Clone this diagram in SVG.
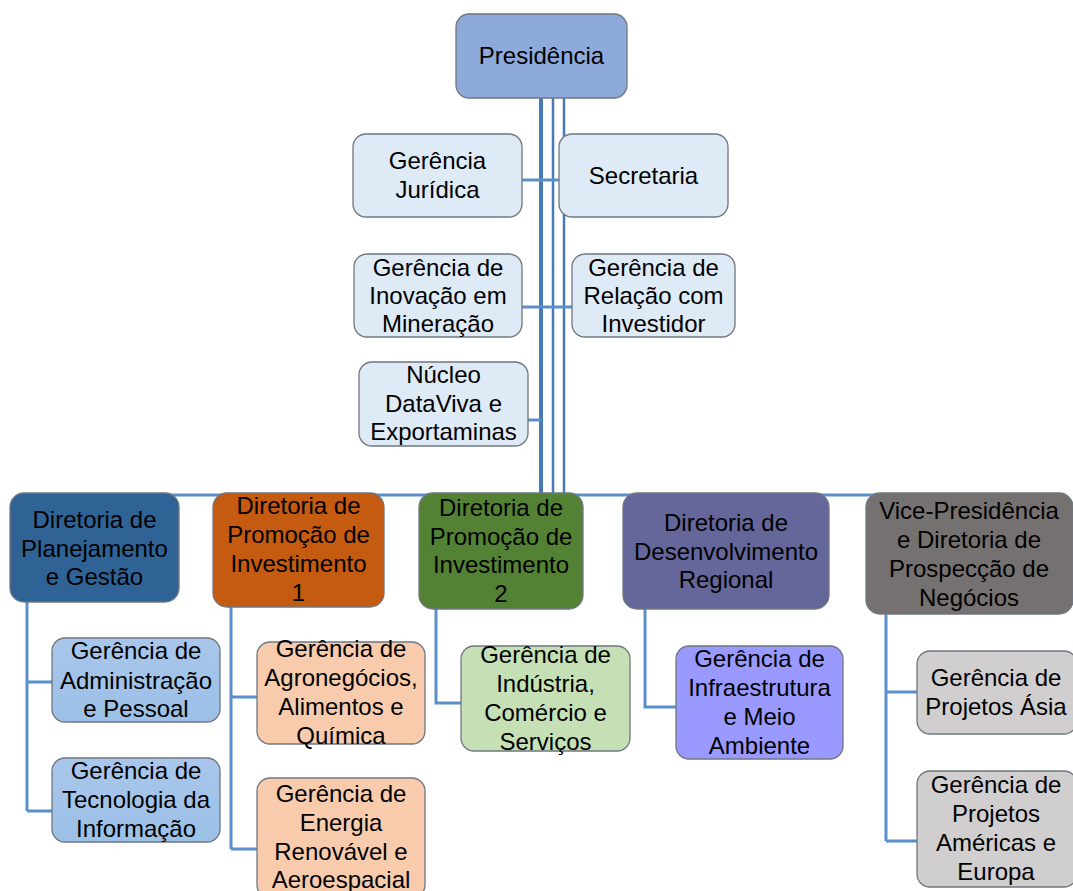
<svg xmlns="http://www.w3.org/2000/svg" width="1073" height="891" viewBox="0 0 1073 891">
<style>
.n{stroke:#6f7780;stroke-width:1.3}
.t{font-family:"Liberation Sans",Arial,sans-serif;font-size:24px;fill:#000;text-anchor:middle}
.c{fill:none;stroke:#5b8fc9;stroke-width:3}
.tr{fill:none;stroke:#4a7ab5}
</style>
<defs>
<linearGradient id="gb" x1="0" y1="0" x2="0" y2="1"><stop offset="0" stop-color="#a9c6ec"/><stop offset="1" stop-color="#9cc0e6"/></linearGradient>
</defs>
<rect width="1073" height="891" fill="#fff"/>
<g id="connectors">
<path class="c" d="M95 495H968"/>
<path class="tr" stroke-width="4" d="M541 98V495"/>
<path class="tr" stroke-width="2.5" d="M553 98V495"/>
<path class="tr" stroke-width="2.5" d="M564 98V495"/>
<path class="c" d="M522 180H559M522 307H572M528 420H541"/>
<path class="c" d="M27 602V811M27 682H52M27 811H52"/>
<path class="c" d="M231 607V849M231 697H257M231 849H257"/>
<path class="c" d="M436 609V703H461"/>
<path class="c" d="M645 609V707H676"/>
<path class="c" d="M886 614V841M886 692H917M886 841H917"/>
</g>
<g id="presidencia"><rect class="n" x="456" y="14" width="171" height="84" rx="13" fill="#8eaadb"/><text class="t" x="541.5" y="64">Presidência</text></g>
<g id="juridica"><rect class="n" x="353" y="134" width="169" height="83" rx="13" fill="#deeaf6"/><text class="t" x="437.5" y="169">Gerência</text><text class="t" x="437.5" y="198">Jurídica</text></g>
<g id="secretaria"><rect class="n" x="559" y="134" width="169" height="83" rx="13" fill="#deeaf6"/><text class="t" x="643.5" y="184">Secretaria</text></g>
<g id="inovacao"><rect class="n" x="354" y="254" width="168" height="83" rx="13" fill="#deeaf6"/><text class="t" x="438" y="276">Gerência de</text><text class="t" x="438" y="304">Inovação em</text><text class="t" x="438" y="332">Mineração</text></g>
<g id="relacao"><rect class="n" x="572" y="254" width="163" height="83" rx="13" fill="#deeaf6"/><text class="t" x="653.5" y="276">Gerência de</text><text class="t" x="653.5" y="304">Relação com</text><text class="t" x="653.5" y="332">Investidor</text></g>
<g id="nucleo"><rect class="n" x="359" y="362" width="169" height="84" rx="13" fill="#deeaf6"/><text class="t" x="443.5" y="383">Núcleo</text><text class="t" x="443.5" y="412">DataViva e</text><text class="t" x="443.5" y="440">Exportaminas</text></g>
<g id="planejamento"><rect class="n" x="10" y="493" width="169" height="109" rx="14" fill="#2f6396"/><text class="t" x="94.5" y="528">Diretoria de</text><text class="t" x="94.5" y="557">Planejamento</text><text class="t" x="94.5" y="585">e Gestão</text></g>
<g id="promocao1"><rect class="n" x="213" y="493" width="171" height="114" rx="14" fill="#c55a11"/><text class="t" x="298.5" y="514">Diretoria de</text><text class="t" x="298.5" y="543">Promoção de</text><text class="t" x="298.5" y="572">Investimento</text><text class="t" x="298.5" y="601">1</text></g>
<g id="promocao2"><rect class="n" x="419" y="493" width="164" height="116" rx="14" fill="#548235"/><text class="t" x="501" y="516">Diretoria de</text><text class="t" x="501" y="545">Promoção de</text><text class="t" x="501" y="573">Investimento</text><text class="t" x="501" y="602">2</text></g>
<g id="desenvolvimento"><rect class="n" x="623" y="493" width="206" height="116" rx="14" fill="#656699"/><text class="t" x="726" y="531">Diretoria de</text><text class="t" x="726" y="560">Desenvolvimento</text><text class="t" x="726" y="588">Regional</text></g>
<g id="vice"><rect class="n" x="866" y="493" width="207" height="121" rx="14" fill="#767171"/><text class="t" x="969" y="519">Vice-Presidência</text><text class="t" x="969" y="548">e Diretoria de</text><text class="t" x="969" y="577">Prospecção de</text><text class="t" x="969" y="606">Negócios</text></g>
<g id="administracao"><rect class="n" x="52" y="638" width="168" height="84" rx="13" fill="url(#gb)"/><text class="t" x="136" y="659">Gerência de</text><text class="t" x="136" y="689">Administração</text><text class="t" x="136" y="717">e Pessoal</text></g>
<g id="tecnologia"><rect class="n" x="52" y="758" width="168" height="84" rx="13" fill="url(#gb)"/><text class="t" x="136" y="779">Gerência de</text><text class="t" x="136" y="808">Tecnologia da</text><text class="t" x="136" y="837">Informação</text></g>
<g id="agronegocios"><rect class="n" x="257" y="642" width="168" height="102" rx="13" fill="#f8cbad"/><text class="t" x="341" y="657">Gerência de</text><text class="t" x="341" y="686">Agronegócios,</text><text class="t" x="341" y="715">Alimentos e</text><text class="t" x="341" y="744">Química</text></g>
<g id="energia"><rect class="n" x="257" y="778" width="168" height="120" rx="13" fill="#f8cbad"/><text class="t" x="341" y="802">Gerência de</text><text class="t" x="341" y="831">Energia</text><text class="t" x="341" y="860">Renovável e</text><text class="t" x="341" y="888">Aeroespacial</text></g>
<g id="industria"><rect class="n" x="461" y="646" width="169" height="105" rx="13" fill="#c5e0b4"/><text class="t" x="545.5" y="663">Gerência de</text><text class="t" x="545.5" y="692">Indústria,</text><text class="t" x="545.5" y="721">Comércio e</text><text class="t" x="545.5" y="750">Serviços</text></g>
<g id="infraestrutura"><rect class="n" x="676" y="646" width="167" height="113" rx="13" fill="#9999ff"/><text class="t" x="759.5" y="667">Gerência de</text><text class="t" x="759.5" y="696">Infraestrutura</text><text class="t" x="759.5" y="725">e Meio</text><text class="t" x="759.5" y="754">Ambiente</text></g>
<g id="asia"><rect class="n" x="917" y="651" width="160" height="83" rx="13" fill="#d0cece"/><text class="t" x="996" y="686">Gerência de</text><text class="t" x="996" y="715">Projetos Ásia</text></g>
<g id="americas"><rect class="n" x="917" y="771" width="160" height="116" rx="13" fill="#d0cece"/><text class="t" x="996" y="793">Gerência de</text><text class="t" x="996" y="822">Projetos</text><text class="t" x="996" y="851">Américas e</text><text class="t" x="996" y="880">Europa</text></g>
</svg>
